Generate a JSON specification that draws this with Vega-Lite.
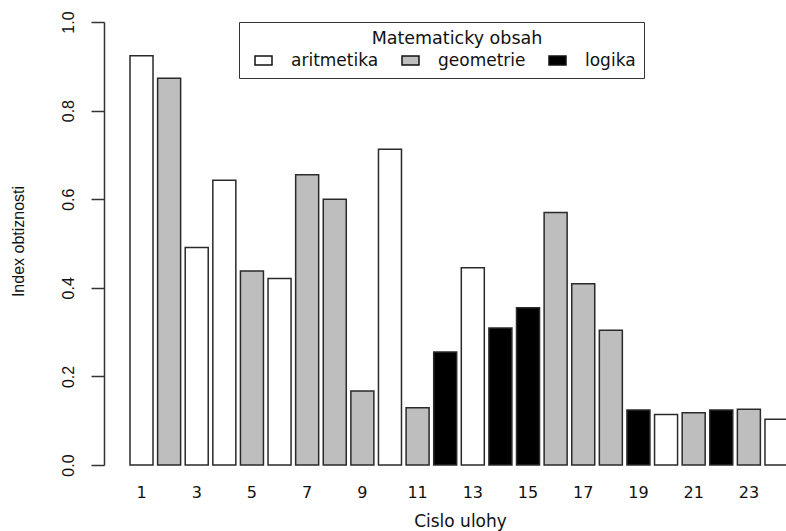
{
  "$schema": "https://vega.github.io/schema/vega-lite/v6.json",
  "autosize": {"type": "none"},
  "padding": {"left": 104, "top": 4, "right": 0, "bottom": 48},
  "width": 682,
  "height": 479,
  "background": "white",
  "config": {"view": {"stroke": null}, "font": "DejaVu Sans"},
  "data": {
    "values": [
      {"uloha": 1, "obsah": "aritmetika", "index": 0.924},
      {"uloha": 2, "obsah": "geometrie", "index": 0.873},
      {"uloha": 3, "obsah": "aritmetika", "index": 0.491},
      {"uloha": 4, "obsah": "aritmetika", "index": 0.643},
      {"uloha": 5, "obsah": "geometrie", "index": 0.438},
      {"uloha": 6, "obsah": "aritmetika", "index": 0.421},
      {"uloha": 7, "obsah": "geometrie", "index": 0.655},
      {"uloha": 8, "obsah": "geometrie", "index": 0.600},
      {"uloha": 9, "obsah": "geometrie", "index": 0.167},
      {"uloha": 10, "obsah": "aritmetika", "index": 0.713},
      {"uloha": 11, "obsah": "geometrie", "index": 0.129},
      {"uloha": 12, "obsah": "logika", "index": 0.255},
      {"uloha": 13, "obsah": "aritmetika", "index": 0.445},
      {"uloha": 14, "obsah": "logika", "index": 0.309},
      {"uloha": 15, "obsah": "logika", "index": 0.355},
      {"uloha": 16, "obsah": "geometrie", "index": 0.570},
      {"uloha": 17, "obsah": "geometrie", "index": 0.409},
      {"uloha": 18, "obsah": "geometrie", "index": 0.304},
      {"uloha": 19, "obsah": "logika", "index": 0.124},
      {"uloha": 20, "obsah": "aritmetika", "index": 0.114},
      {"uloha": 21, "obsah": "geometrie", "index": 0.118},
      {"uloha": 22, "obsah": "logika", "index": 0.124},
      {"uloha": 23, "obsah": "geometrie", "index": 0.126},
      {"uloha": 24, "obsah": "aritmetika", "index": 0.103}
    ]
  },
  "mark": {"type": "bar", "stroke": "#2a2a2a", "strokeWidth": 1.5},
  "encoding": {
    "x": {
      "field": "uloha",
      "type": "ordinal",
      "sort": null,
      "scale": {"range": [0, 710], "paddingInner": 0.1667, "paddingOuter": 0.942},
      "axis": {
        "values": [1, 3, 5, 7, 9, 11, 13, 15, 17, 19, 21, 23],
        "labelAngle": 0,
        "domain": false,
        "ticks": false,
        "tickSize": 0,
        "labelPadding": 9,
        "labelBaseline": "middle",
        "labelFontSize": 16,
        "labelColor": "#111",
        "title": "Cislo ulohy",
        "titleFontSize": 17,
        "titleFontWeight": "normal",
        "titleColor": "#111",
        "titleX": 356,
        "titleY": 38,
        "titleAlign": "center",
        "titleBaseline": "middle"
      }
    },
    "y": {
      "field": "index",
      "type": "quantitative",
      "scale": {"domain": [0, 1], "range": [461, 18], "nice": false, "zero": true},
      "axis": {
        "values": [0, 0.2, 0.4, 0.6, 0.8, 1.0],
        "format": ".1f",
        "grid": false,
        "labelAngle": 270,
        "labelAlign": "center",
        "labelBaseline": "middle",
        "labelPadding": 23,
        "labelFont": "Liberation Sans Narrow, Liberation Sans",
        "labelFontSize": 16,
        "labelColor": "#111",
        "tickSize": 13,
        "tickWidth": 1.5,
        "tickColor": "#333",
        "domainColor": "#333",
        "domainWidth": 1.5,
        "title": "Index obtiznosti",
        "titleFont": "Liberation Sans Narrow, Liberation Sans",
        "titleFontSize": 16,
        "titleFontWeight": "normal",
        "titleColor": "#111",
        "titleAngle": 270,
        "titleX": -86,
        "titleY": 237,
        "titleAlign": "center",
        "titleBaseline": "middle"
      }
    },
    "fill": {
      "field": "obsah",
      "type": "nominal",
      "scale": {"domain": ["aritmetika", "geometrie", "logika"], "range": ["#ffffff", "#bebebe", "#000000"]},
      "legend": {
        "orient": "none",
        "legendX": 135,
        "legendY": 18,
        "direction": "horizontal",
        "title": "Matematicky obsah",
        "titleAnchor": "middle",
        "titleFontSize": 17.5,
        "titleFontWeight": "normal",
        "titleColor": "#111",
        "titlePadding": 4,
        "labelFontSize": 17,
        "labelColor": "#111",
        "labelOffset": 11,
        "columnPadding": 15,
        "clipHeight": 18,
        "symbolType": "M-0.548,-0.29H0.548V0.29H-0.548Z",
        "symbolSize": 961,
        "symbolStrokeColor": "#111",
        "symbolStrokeWidth": 1.5,
        "padding": 8,
        "strokeColor": "#333",
        "fillColor": "white",
        "cornerRadius": 0,
        "encode": {"title": {"update": {"dx": {"value": 16}}}}
      }
    }
  }
}
